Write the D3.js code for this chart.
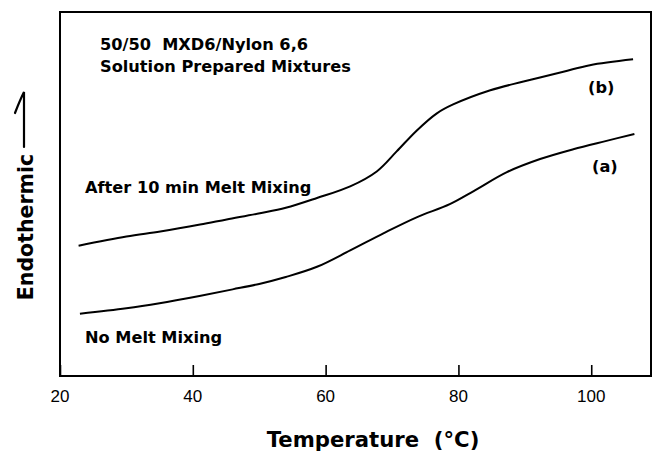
<!DOCTYPE html>
<html>
<head>
<meta charset="utf-8">
<script src="https://cdn.jsdelivr.net/npm/d3@7"></script>
<style>
  body { margin: 0; background: #fff; }
  svg { display: block; font-family: "Liberation Sans", Arial, sans-serif; }
  .bold { font-family: "DejaVu Sans", sans-serif; font-weight: bold; }
</style>
</head>
<body>
<svg width="654" height="455"></svg>
<script>
// temperature (°C) and relative heat flow (arbitrary units, 0-100 over the frame)
const tempA = [23.0, 30.0, 35.0, 41.0, 46.0, 50.0, 54.0, 58.7, 63.7, 68.7, 73.7, 78.7, 82.3, 87.3, 92.3, 97.3, 102.3, 106.5];
const flowA = [17.1, 18.6, 20.0, 22.0, 23.8, 25.3, 27.2, 30.0, 34.5, 39.2, 43.6, 47.2, 50.8, 56.0, 59.6, 62.3, 64.6, 66.5];
const tempB = [22.8, 30.0, 35.1, 41.1, 45.1, 50.1, 54.0, 58.7, 63.7, 67.7, 70.7, 73.7, 76.7, 79.2, 84.8, 89.8, 95.8, 99.8, 106.3];
const flowB = [35.8, 38.3, 39.7, 41.6, 43.0, 44.7, 46.2, 48.9, 52.1, 56.2, 61.7, 67.4, 72.1, 74.6, 78.5, 80.9, 83.6, 85.4, 87.0];
const xTicks = [20, 40, 60, 80, 100];

const svg = d3.select('svg');
const frame = { left: 60, right: 651, top: 12, bottom: 376 };

const x = d3.scaleLinear().domain([20, 109]).range([frame.left, frame.right]);
const y = d3.scaleLinear().domain([0, 100]).range([frame.bottom, frame.top]);

const line = d3.line()
  .x(d => x(d[0]))
  .y(d => y(d[1]))
  .curve(d3.curveCatmullRom);

// frame
svg.append('rect')
  .attr('x', frame.left).attr('y', frame.top)
  .attr('width', frame.right - frame.left).attr('height', frame.bottom - frame.top)
  .attr('fill', 'none').attr('stroke', '#000').attr('stroke-width', 2);

// inward ticks on the bottom edge
const xAxis = d3.axisTop(x).tickValues(xTicks).tickSize(11).tickFormat('');
svg.append('g')
  .attr('transform', `translate(0,${frame.bottom})`)
  .call(xAxis)
  .call(g => g.select('.domain').remove())
  .call(g => g.selectAll('line').attr('stroke', '#000').attr('stroke-width', 1.6));

svg.append('g').selectAll('text')
  .data(xTicks)
  .join('text')
  .attr('x', d => x(d))
  .attr('y', 402)
  .attr('text-anchor', 'middle')
  .attr('font-size', 17)
  .text(d => d);

// curves
const series = [d3.zip(tempA, flowA), d3.zip(tempB, flowB)];
svg.append('g').selectAll('path')
  .data(series)
  .join('path')
  .attr('d', line)
  .attr('fill', 'none')
  .attr('stroke', '#000')
  .attr('stroke-width', 2);

// annotations
const notes = [
  { t: '50/50  MXD6/Nylon 6,6', x: 100, y: 50 },
  { t: 'Solution Prepared Mixtures', x: 100, y: 72 },
  { t: 'After 10 min Melt Mixing', x: 85, y: 193 },
  { t: 'No Melt Mixing', x: 85, y: 343 },
  { t: '(b)', x: 588, y: 93 },
  { t: '(a)', x: 592, y: 172 }
];
svg.append('g').selectAll('text')
  .data(notes)
  .join('text')
  .attr('class', 'bold')
  .attr('x', d => d.x)
  .attr('y', d => d.y)
  .attr('font-size', 16.2)
  .attr('xml:space', 'preserve')
  .text(d => d.t);

// axis titles
svg.append('text')
  .attr('class', 'bold')
  .attr('x', 373).attr('y', 447)
  .attr('text-anchor', 'middle')
  .attr('font-size', 21.2)
  .attr('xml:space', 'preserve')
  .text('Temperature  (°C)');

svg.append('text')
  .attr('class', 'bold')
  .attr('transform', 'translate(33,227) rotate(-90)')
  .attr('text-anchor', 'middle')
  .attr('font-size', 20.5)
  .text('Endothermic');

// half-arrow beside the y title
svg.append('path')
  .attr('d', 'M24,147 L24,92 Q20,100 15,113')
  .attr('fill', 'none')
  .attr('stroke', '#000')
  .attr('stroke-width', 2.2)
  .attr('stroke-linecap', 'round');
</script>
</body>
</html>
